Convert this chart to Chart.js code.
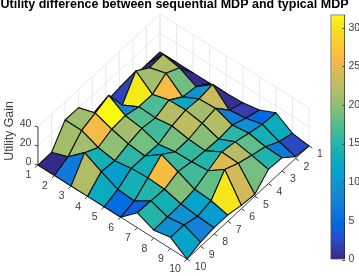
<!DOCTYPE html>
<html lang="en">
<head>
    <meta charset="UTF-8">
    <title>Utility difference</title>
    <script src="https://cdn.jsdelivr.net/npm/chart.js"></script>
    <style>
        body { margin: 0; background: #fff; }
        #wrap { position: relative; width: 359px; height: 276px; overflow: hidden; }
        canvas { position: absolute; top: 0; }
    </style>
</head>
<body>
    <div id="wrap">
        <canvas id="surface" width="359" height="276" style="left:0"></canvas>
        <canvas id="colorbar" width="39" height="276" style="left:320px"></canvas>
    </div>

    <script>
        const titleText = 'Utility difference between sequential MDP and typical MDP';
        const zLabel = 'Utility Gain';
        const gridTicks = [1, 2, 3, 4, 5, 6, 7, 8, 9, 10];
        const zTicks = [0, 20, 40];
        const barTicks = [0, 5, 10, 15, 20, 25, 30];
        const barMax = 31.7;

        // one array per value on the left axis, read along the right axis 1..10
        const gain1 = [0, 0, 0, 2, 0, 0, 20.7, 21, 0, 0];
        const gain2 = [0, 21.8, 21, 30.6, 8, 31.5, 26, 21, 6.5, 0];
        const gain3 = [0, 18.6, 26, 17, 17.3, 21, 20, 14, 21.8, 0];
        const gain4 = [0, 9.7, 12.2, 22, 16.5, 18.7, 15.5, 11, 12.7, 0];
        const gain5 = [0.5, 23, 21, 22.5, 19, 13, 13.8, 14, 5, 0];
        const gain6 = [1.6, 7, 22, 19.6, 16, 16, 26.3, 15, 3.9, 0];
        const gain7 = [4.8, 9.4, 15.5, 14, 15, 16.5, 19.3, 14, 15, 15.7];
        const gain8 = [13, 14, 17.8, 22, 24.5, 18, 11.7, 9.5, 9, 8.4];
        const gain9 = [2.3, 6.7, 14.6, 18.8, 23.7, 30.3, 10.7, 7.5, 11.6, 11.8];
        const gain10 = [0, 2, 14, 15, 2, 3.6, 6.6, 6.5, 4.6, 0];
        const gains = [gain1, gain2, gain3, gain4, gain5, gain6, gain7, gain8, gain9, gain10];

        // parula, every third of the 64 steps
        const parula = [
            [0.2081, 0.1663, 0.5292], [0.2081, 0.2386, 0.6771], [0.1253, 0.3242, 0.8303], [0.0060, 0.4086, 0.8828],
            [0.0498, 0.4586, 0.8641], [0.0779, 0.5040, 0.8384], [0.0641, 0.5570, 0.8240], [0.0265, 0.6137, 0.8135],
            [0.0228, 0.6535, 0.7768], [0.0590, 0.6838, 0.7254], [0.1453, 0.7098, 0.6646], [0.2586, 0.7317, 0.5954],
            [0.3953, 0.7459, 0.5244], [0.5300, 0.7491, 0.4661], [0.6473, 0.7456, 0.4188], [0.7525, 0.7384, 0.3768],
            [0.8507, 0.7299, 0.3360], [0.9450, 0.7261, 0.2886], [0.9990, 0.7653, 0.2164], [0.9789, 0.8271, 0.1633],
            [0.9589, 0.8949, 0.1132], [0.9763, 0.9831, 0.0538]
        ];

        function colorAt(t) {
            const pos = Math.max(0, Math.min(1, t)) * (parula.length - 1);
            const i = Math.min(Math.floor(pos), parula.length - 2);
            const f = pos - i;
            const c = parula[i].map((v, k) => Math.round(255 * (v + (parula[i + 1][k] - v) * f)));
            return `rgb(${c[0]},${c[1]},${c[2]})`;
        }

        // orthographic view: where the back corner sits and what one step on each axis does
        const back = { x: 160, y: 52 };
        const stepLeft = { x: 16.56, y: 10.44 };
        const stepRight = { x: -13.56, y: 12.56 };
        const stepZ = 0.95;

        function project(a, b, z) {
            return {
                x: back.x + (a - 1) * stepLeft.x + (b - 1) * stepRight.x,
                y: back.y + (a - 1) * stepLeft.y + (b - 1) * stepRight.y - z * stepZ
            };
        }

        function lineSet(points, color, width) {
            return {
                type: 'scatter', data: points, showLine: true, fill: false,
                borderColor: color, borderWidth: width, pointRadius: 0, clip: false
            };
        }

        const gridColor = '#e8e8e8';
        const axisColor = '#404040';
        const layers = [];

        // walls
        const last = gridTicks[gridTicks.length - 1];
        const topZ = zTicks[zTicks.length - 1];
        gridTicks.forEach(t => {
            layers.push(lineSet([project(1, t, 0), project(1, t, topZ)], gridColor, 1));
            layers.push(lineSet([project(t, 1, 0), project(t, 1, topZ)], gridColor, 1));
        });
        zTicks.forEach(z => {
            layers.push(lineSet([project(1, last, z), project(1, 1, z), project(last, 1, z)], gridColor, 1));
        });

        // axes and their tick marks
        layers.push(lineSet([project(1, last, 0), project(last, last, 0), project(last, 1, 0)], axisColor, 1));
        layers.push(lineSet([project(1, last, 0), project(1, last, topZ)], axisColor, 1));
        gridTicks.forEach(t => {
            const p = project(t, last, 0);
            layers.push(lineSet([p, { x: p.x + stepRight.x * 0.2, y: p.y + stepRight.y * 0.2 }], axisColor, 1));
            const q = project(last, t, 0);
            layers.push(lineSet([q, { x: q.x + stepLeft.x * 0.2, y: q.y + stepLeft.y * 0.2 }], axisColor, 1));
        });
        zTicks.forEach(z => {
            const p = project(1, last, z);
            layers.push(lineSet([p, { x: p.x - 3.4, y: p.y - 1 }], axisColor, 1));
        });

        // faces, back to front, coloured by their back corner like surf does
        for (let i = 0; i < gains.length - 1; i++) {
            for (let j = 0; j < gains[i].length - 1; j++) {
                const shape = [
                    project(i + 1, j + 1, gains[i][j]),
                    project(i + 2, j + 1, gains[i + 1][j]),
                    project(i + 2, j + 2, gains[i + 1][j + 1]),
                    project(i + 1, j + 2, gains[i][j + 1]),
                    project(i + 1, j + 1, gains[i][j])
                ];
                const face = lineSet(shape, '#111', 1.1);
                face.fill = 'shape';
                face.backgroundColor = colorAt(gains[i][j] / barMax);
                face.borderJoinStyle = 'round';
                layers.push(face);
            }
        }

        const textFont = '"Liberation Sans", Arial, sans-serif';

        const surfaceText = {
            id: 'surfaceText',
            afterDraw(chart) {
                const { ctx, scales } = chart;
                const px = p => ({ x: scales.x.getPixelForValue(p.x), y: scales.y.getPixelForValue(p.y) });
                ctx.save();
                ctx.textBaseline = 'middle';
                ctx.textAlign = 'center';

                ctx.fillStyle = '#000';
                ctx.font = `bold 12.5px ${textFont}`;
                ctx.fillText(titleText, 174.5, 5);

                ctx.fillStyle = axisColor;
                ctx.font = `10.5px ${textFont}`;
                gridTicks.forEach(t => {
                    const wide = t === 10 ? 2.5 : 0;
                    const p = px(project(t, last, 0));
                    ctx.fillText(String(t), p.x - 9.5 - wide, p.y + 10.5);
                    const q = px(project(last, t, 0));
                    ctx.fillText(String(t), q.x + 11 + wide, q.y + 8.5);
                });
                ctx.textAlign = 'right';
                zTicks.forEach(z => {
                    const p = px(project(1, last, z));
                    ctx.fillText(String(z), p.x - 6.5, p.y - 3);
                });

                ctx.font = `12.3px ${textFont}`;
                ctx.textAlign = 'center';
                ctx.translate(10, 131);
                ctx.rotate(-Math.PI / 2);
                ctx.fillText(zLabel, 0, 0);
                ctx.restore();
            }
        };

        new Chart(document.getElementById('surface'), {
            type: 'scatter',
            data: { datasets: layers.reverse() },
            options: {
                responsive: false,
                animation: false,
                layout: { padding: 0 },
                plugins: { legend: { display: false }, tooltip: { enabled: false } },
                elements: { line: { tension: 0 } },
                scales: {
                    x: { type: 'linear', display: false, min: 0, max: 359 },
                    y: { type: 'linear', display: false, min: 0, max: 276, reverse: true }
                }
            },
            plugins: [surfaceText]
        });

        const barTickMarks = {
            id: 'barTickMarks',
            afterDatasetsDraw(chart) {
                const { ctx, chartArea, scales } = chart;
                ctx.save();
                ctx.strokeStyle = axisColor;
                ctx.lineWidth = 1;
                barTicks.forEach(v => {
                    const y = Math.round(scales.y.getPixelForValue(v)) + 0.5;
                    ctx.beginPath();
                    ctx.moveTo(chartArea.right, y);
                    ctx.lineTo(chartArea.right - 2.5, y);
                    ctx.stroke();
                });
                ctx.restore();
            }
        };

        new Chart(document.getElementById('colorbar'), {
            type: 'bar',
            data: {
                labels: [''],
                datasets: [{
                    data: [[0, barMax]],
                    barPercentage: 1,
                    categoryPercentage: 1,
                    borderColor: '#222',
                    borderWidth: 1,
                    borderSkipped: false,
                    backgroundColor(context) {
                        const area = context.chart.chartArea;
                        if (!area) return '#888';
                        const g = context.chart.ctx.createLinearGradient(0, area.bottom, 0, area.top);
                        parula.forEach((c, i) => g.addColorStop(i / (parula.length - 1), colorAt(i / (parula.length - 1))));
                        return g;
                    }
                }]
            },
            options: {
                responsive: false,
                animation: false,
                layout: { padding: { left: 10.5, top: 14.5, bottom: 16.5, right: 0 } },
                plugins: { legend: { display: false }, tooltip: { enabled: false } },
                scales: {
                    x: { display: false },
                    y: {
                        position: 'right',
                        min: 0,
                        max: barMax,
                        afterBuildTicks(scale) { scale.ticks = barTicks.map(v => ({ value: v })); },
                        afterFit(scale) { scale.width = 14; },
                        grid: { display: false, drawTicks: false },
                        border: { display: false },
                        ticks: {
                            color: axisColor,
                            padding: 3.5,
                            font: { family: textFont, size: 10.5 }
                        }
                    }
                }
            },
            plugins: [barTickMarks]
        });
    </script>
</body>
</html>
